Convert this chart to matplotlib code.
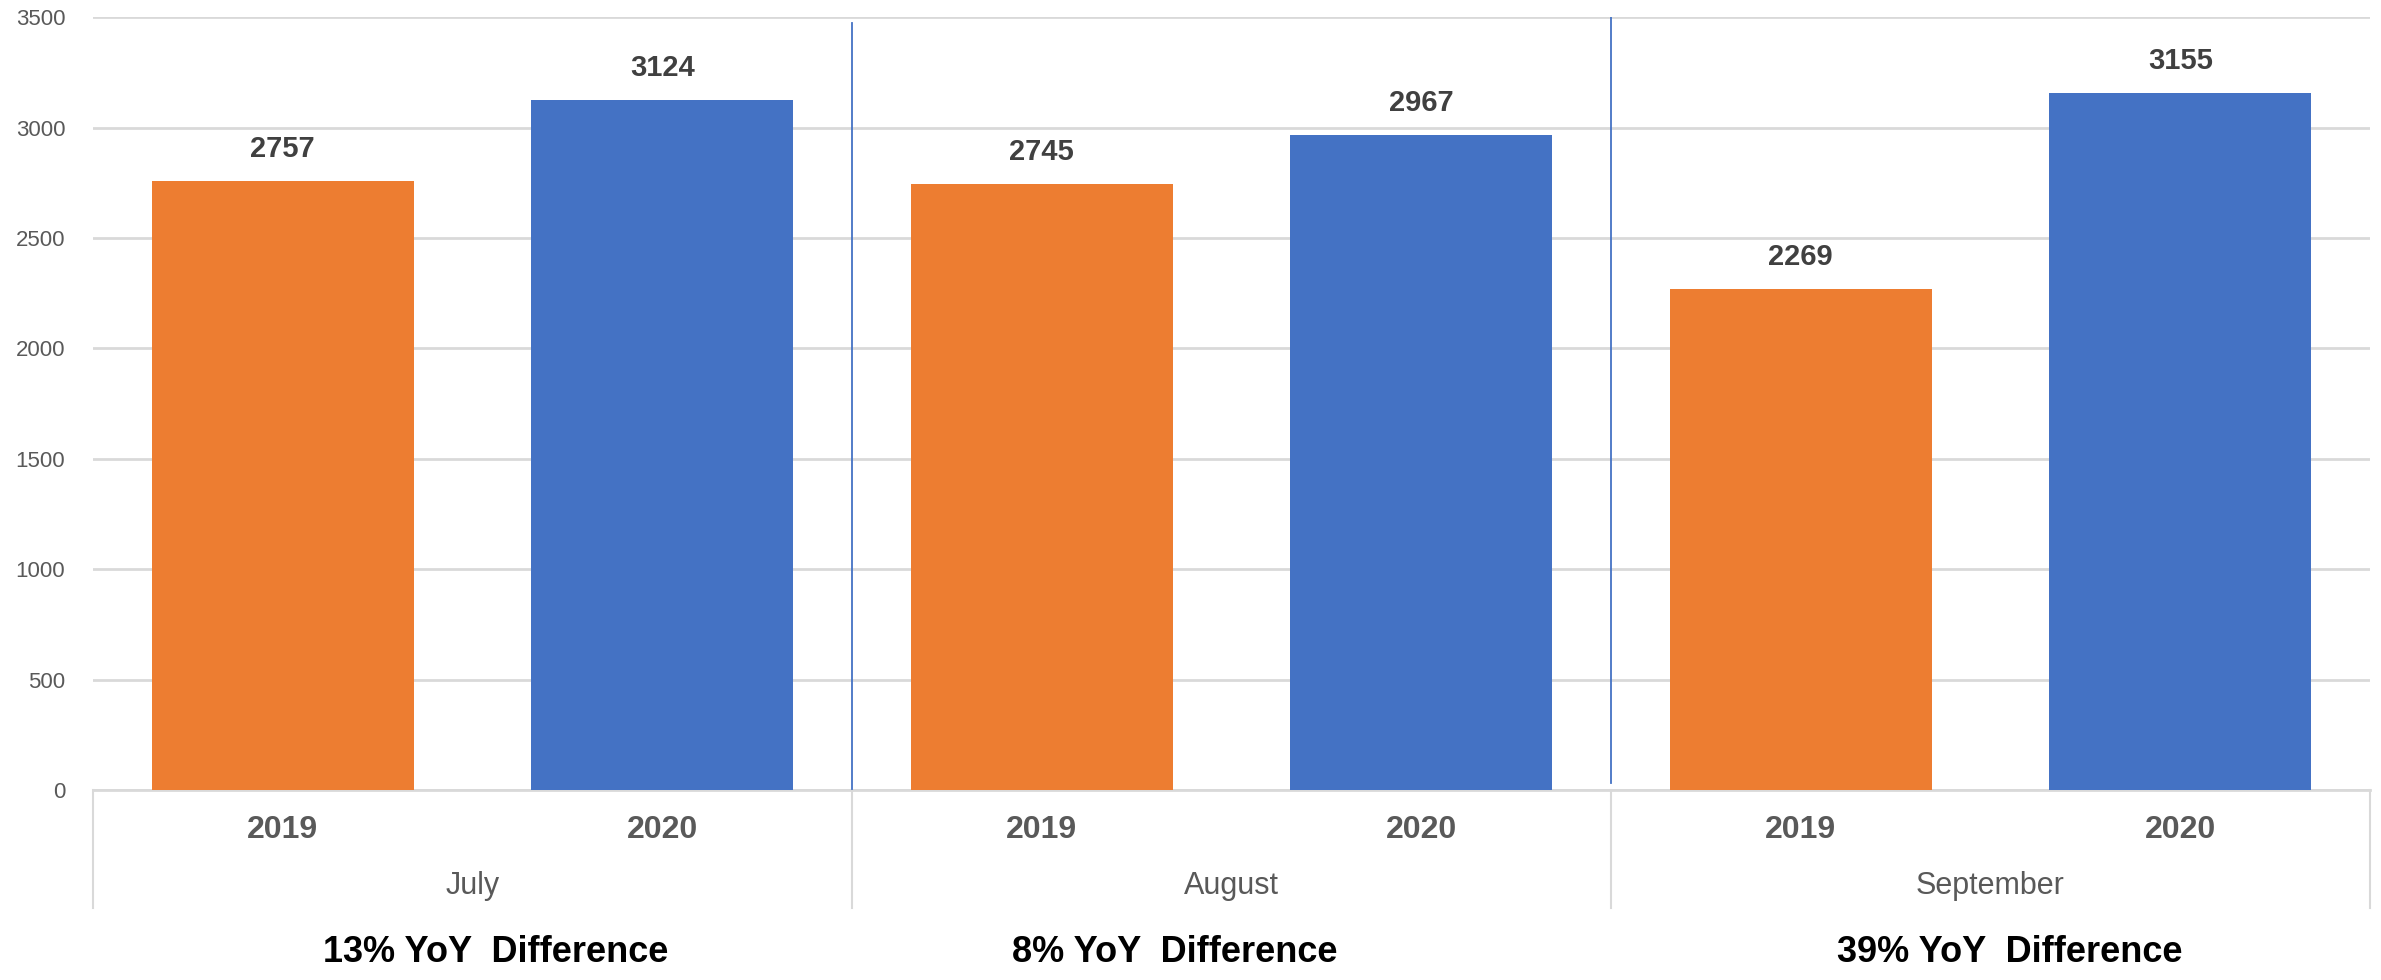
import matplotlib
matplotlib.use("Agg")
import matplotlib.pyplot as plt
import matplotlib.transforms as mtransforms
from matplotlib.lines import Line2D
import numpy as np

months = ["July", "August", "September"]
years = ["2019", "2020"]
values_2019 = [2757, 2745, 2269]
values_2020 = [3124, 2967, 3155]
yoy_labels = ["13% YoY  Difference", "8% YoY  Difference", "39% YoY  Difference"]
yticks = [0, 500, 1000, 1500, 2000, 2500, 3000, 3500]

plt.rcParams['font.family'] = ['Liberation Sans', 'DejaVu Sans']

ORANGE = "#ED7D31"
BLUE = "#4472C4"
GRID = "#D9D9D9"
TXT = "#595959"

fig = plt.figure(figsize=(23.81, 9.80), dpi=100)
ax = fig.add_axes([93/2381, 1-790/980, (2370-93)/2381, (790-17.3)/980])

n = len(months)
xs_2019 = np.arange(n) * 2
xs_2020 = np.arange(n) * 2 + 1
w = 0.69
b1 = ax.bar(xs_2019, values_2019, width=w, color=ORANGE, zorder=3)
b2 = ax.bar(xs_2020, values_2020, width=w, color=BLUE, zorder=3)

for bars, vals in ((b1, values_2019), (b2, values_2020)):
    for r, v in zip(bars, vals):
        ax.annotate(str(v), (r.get_x() + r.get_width()/2, v), xytext=(0, 13),
                    textcoords="offset points", ha="center", va="bottom",
                    fontsize=21, fontweight="bold", color="#404040")

ax.set_xlim(-0.5, 2*n - 0.5)
ax.set_ylim(0, 3500)
ax.set_yticks(yticks)
ax.set_yticklabels([str(t) for t in yticks], fontsize=16, color=TXT)
ax.tick_params(axis="y", length=0, pad=20)
ax.set_xticks([])
ax.yaxis.grid(True, color=GRID, linewidth=2, zorder=0)
for s in ["top", "right", "left"]:
    ax.spines[s].set_visible(False)
ax.spines["bottom"].set_color(GRID)
ax.spines["bottom"].set_linewidth(2)

# blue dividers between months
ax.axvline(1.5, ymin=5/3500, ymax=3474/3500, color=BLUE, linewidth=1.3, zorder=4)
ax.axvline(3.5, ymin=32/3500, ymax=1.0, color=BLUE, linewidth=1.3, zorder=4)

trans = mtransforms.blended_transform_factory(ax.transData, ax.transAxes)
axh = (790-17.3)
sep_bottom = -(908-790)/axh
for xb in np.arange(n+1)*2 - 0.5:
    ax.add_line(Line2D([xb, xb], [0, sep_bottom], transform=trans, color=GRID,
                       linewidth=1.5, clip_on=False))

for i in range(n):
    ax.text(xs_2019[i], -(830-790)/axh, years[0], transform=trans, ha="center", va="center",
            fontsize=23, fontweight="bold", color=TXT)
    ax.text(xs_2020[i], -(830-790)/axh, years[1], transform=trans, ha="center", va="center",
            fontsize=23, fontweight="bold", color=TXT)
    ax.text((xs_2019[i]+xs_2020[i])/2, -(886-790)/axh, months[i], transform=trans,
            ha="center", va="center", fontsize=22, color=TXT)

label_x = [496/2381, 1175/2381, 2010/2381]
for lx, lab in zip(label_x, yoy_labels):
    fig.text(lx, 1-952/980, lab, ha="center", va="center", fontsize=26,
             fontweight="bold", color="black")

fig.savefig("out.png", dpi=100)
